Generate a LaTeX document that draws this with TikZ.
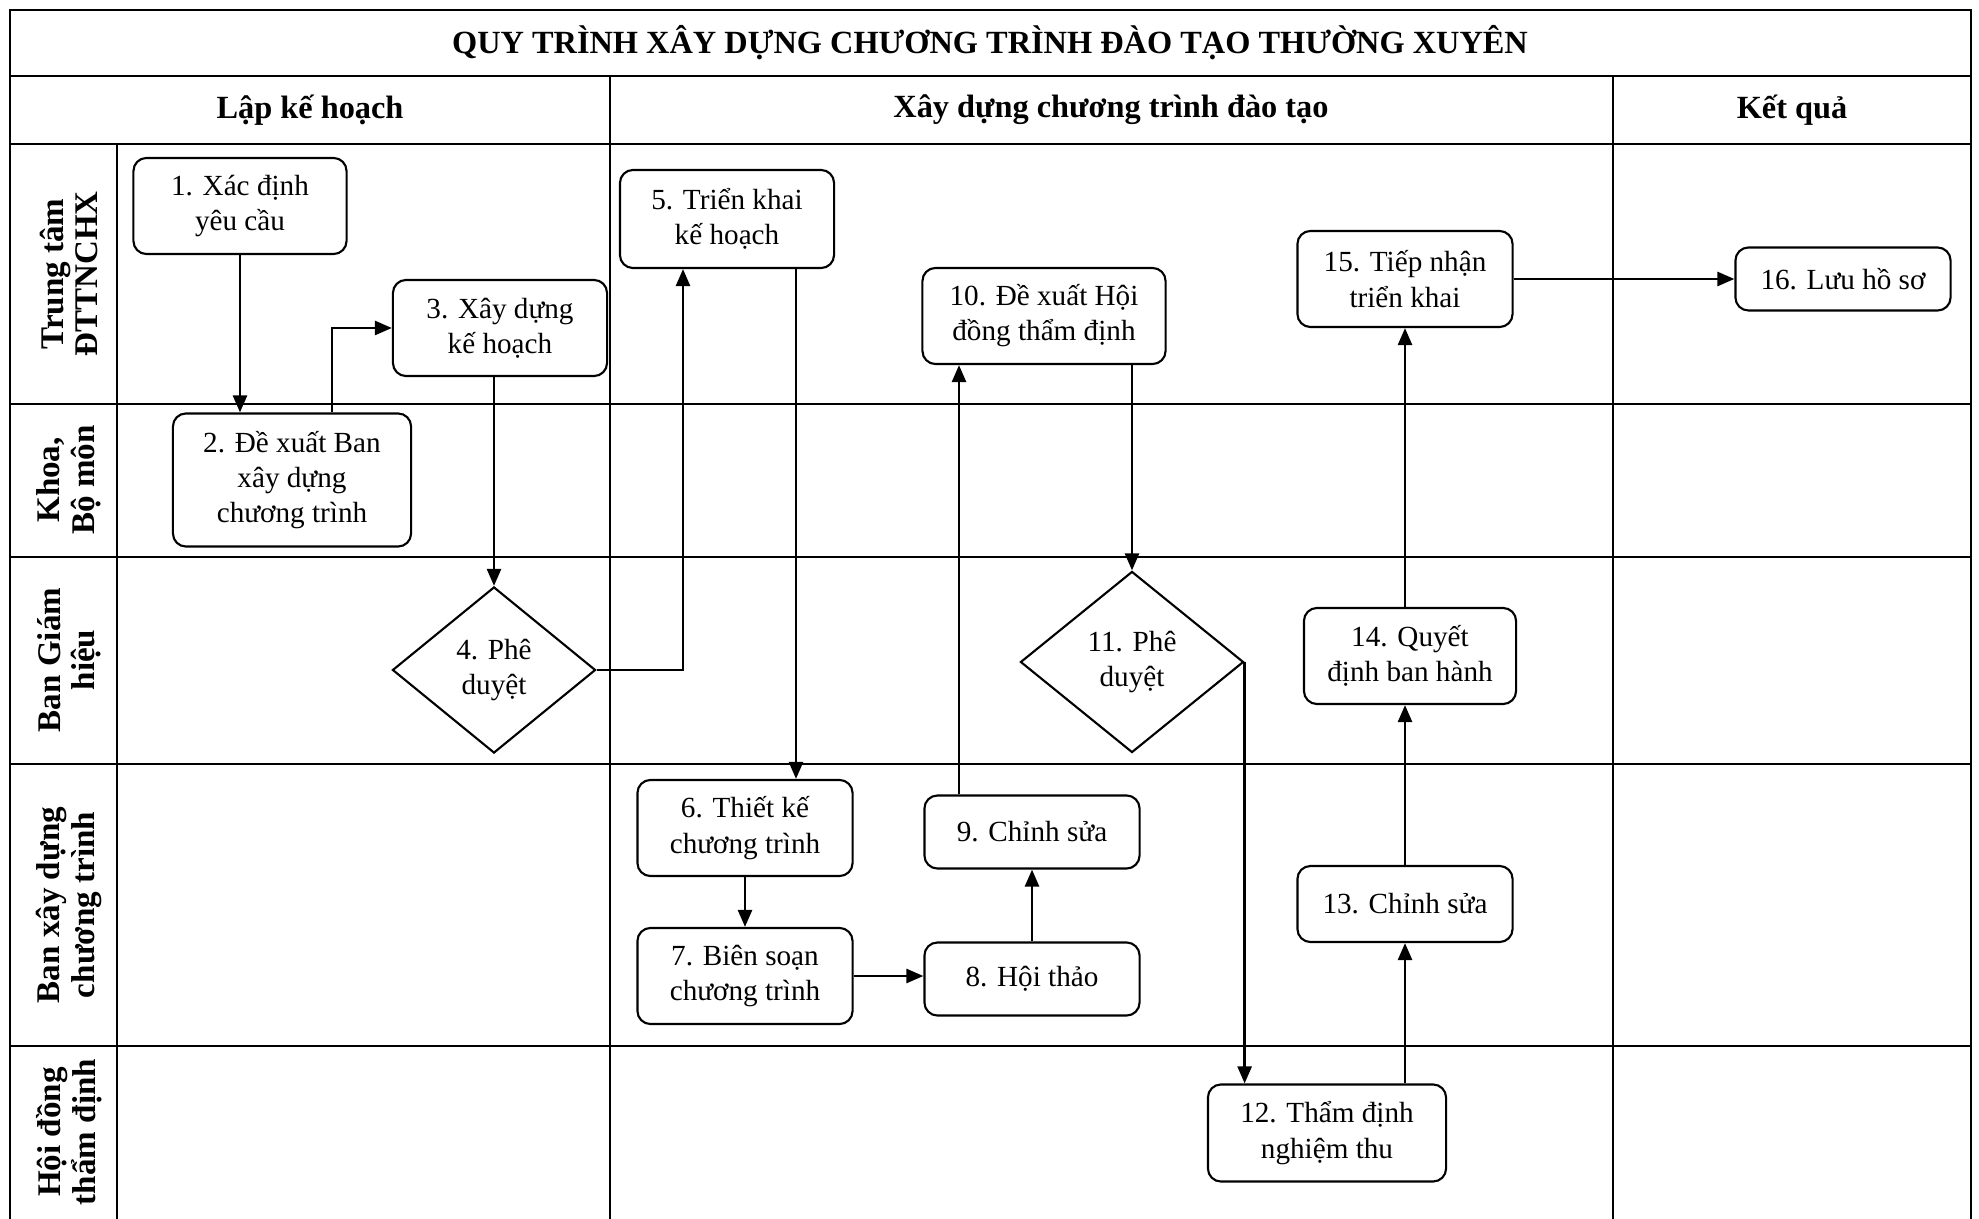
\documentclass[tikz,border=0pt]{standalone}
\usepackage{fontspec}
\setmainfont{Liberation Serif}
\usepackage{tikz}
\usetikzlibrary{arrows.meta,positioning,shapes.geometric,calc}

\begin{document}
\begin{tikzpicture}[
  x=0.01cm, y=-0.01cm,
  font=\fontsize{8.3}{10}\selectfont,
  box/.style={draw, rounded corners=1.3mm, align=center, inner sep=2pt,
              minimum width=2.15cm, minimum height=0.96cm, line width=0.6pt},
  dec/.style={draw, diamond, align=center, inner sep=0pt, line width=0.6pt},
  grid/.style={line width=0.8pt},
  hdr/.style={font=\fontsize{9.2}{10}\selectfont\bfseries, align=center},
  lane/.style={font=\fontsize{9.4}{9.8}\selectfont\bfseries, align=center, rotate=90},
  ar/.style={-{Triangle[length=1.7mm, width=1.4mm]}, line width=0.75pt}
]
\useasboundingbox (0,0) rectangle (1979,1219);

% --- table grid ---------------------------------------------------------
\draw[grid] (10,1219) -- (10,10) -- (1971,10) -- (1971,1219);
\draw[grid] (10,76) -- (1971,76);
\draw[grid] (10,144) -- (1971,144);
\foreach \y in {404,557,764,1046}{%
  \draw[grid] (10,\y) -- (1971,\y);
}
\draw[grid] (117,144) -- (117,1219);
\draw[grid] (610,76) -- (610,1219);
\draw[grid] (1613,76) -- (1613,1219);

% --- title, phases, lanes -----------------------------------------------
\node[hdr] (title) at (990,43) {QUY TRÌNH XÂY DỰNG CHƯƠNG TRÌNH ĐÀO TẠO THƯỜNG XUYÊN};
\node[hdr] (ph1) at (310,110) {Lập kế hoạch};
\node[hdr] (ph2) at (1111,110) {Xây dựng chương trình đào tạo};
\node[hdr] (ph3) at (1792,110) {Kết quả};

\node[lane] (l1) at (69,274) {Trung tâm\\ĐTTNCHX};
\node[lane] (l2) at (69,480) {Khoa,\\Bộ môn};
\node[lane] (l3) at (69,660) {Ban Giám\\hiệu};
\node[lane] (l4) at (69,905) {Ban xây dựng\\chương trình};
\node[lane] (l5) at (69,1132) {Hội đồng\\thẩm định};

% --- steps --------------------------------------------------------------
\node[box, minimum width=2.13cm] (n1) at (240,206) {1. Xác định\\yêu cầu};
\node[box, minimum width=2.38cm, minimum height=1.33cm] (n2) at (292,480) {2. Đề xuất Ban\\xây dựng\\chương trình};
\node[box, minimum width=2.14cm] (n3) at (500,328) {3. Xây dựng\\kế hoạch};
\node[dec, minimum width=2.03cm, minimum height=1.66cm] (n4) at (494,670) {4. Phê\\duyệt};
\node[box, minimum width=2.14cm, minimum height=0.98cm] (n5) at (727,219) {5. Triển khai\\kế hoạch};
\node[box] (n6) at (745,828) {6. Thiết kế\\chương trình};
\node[box] (n7) at (745,976) {7. Biên soạn\\chương trình};
\node[box, minimum height=0.73cm] (n8) at (1032,979) {8. Hội thảo};
\node[box, minimum height=0.73cm] (n9) at (1032,832) {9. Chỉnh sửa};
\node[box, minimum width=2.43cm] (n10) at (1044,316) {10. Đề xuất Hội\\đồng thẩm định};
\node[dec, minimum width=2.23cm, minimum height=1.81cm] (n11) at (1132,662) {11. Phê\\duyệt};
\node[box, minimum width=2.38cm, minimum height=0.97cm] (n12) at (1327,1133) {12. Thẩm định\\nghiệm thu};
\node[box, minimum height=0.76cm] (n13) at (1405,904) {13. Chỉnh sửa};
\node[box, minimum width=2.12cm] (n14) at (1410,656) {14. Quyết\\định ban hành};
\node[box] (n15) at (1405,279) {15. Tiếp nhận\\triển khai};
\node[box, minimum height=0.63cm] (n16) at (1843,279) {16. Lưu hồ sơ};

% --- flow ---------------------------------------------------------------
\coordinate (c23) at ($(n2.north)+(40,0)$);
\coordinate (c45) at ($(n5.south)+(-44,0)$);
\coordinate (c56) at ($(n5.south)+(69,0)$);
\coordinate (c910) at ($(n9.north)+(-73,0)$);

\draw[ar] (n1.south) -- (n1.south |- n2.north);
\draw[ar] (c23) |- (n3.west);
\draw[ar] (n4.north |- n3.south) -- (n4.north);
\draw[ar] (n4.east) -| (c45);
\draw[ar] (c56) -- (c56 |- n6.north);
\draw[ar] (n6) -- (n7);
\draw[ar] (n7.east) -- (n7.east -| n8.west);
\draw[ar] (n8) -- (n9);
\draw[ar] (c910) -- (c910 |- n10.south);
\draw[ar] (n11.north |- n10.south) -- (n11.north);
\draw[ar] (n11.east) -- (n11.east |- n12.north);
\draw[ar] (n13.south |- n12.north) -- (n13.south);
\draw[ar] (n13.north) -- (n13.north |- n14.south);
\draw[ar] (n13.north |- n14.north) -- (n15.south);
\draw[ar] (n15) -- (n16);

\end{tikzpicture}
\end{document}
